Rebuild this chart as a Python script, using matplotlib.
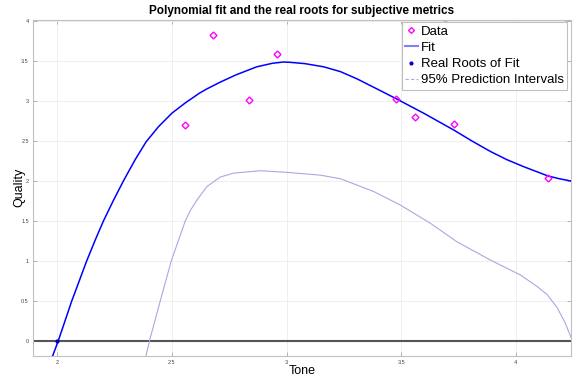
import matplotlib
matplotlib.use("Agg")
import matplotlib.pyplot as plt
from matplotlib.lines import Line2D

plt.rcParams['font.family'] = ['Liberation Sans', 'DejaVu Sans']

# measured points
tone = [2.559, 2.680, 2.838, 2.959, 3.479, 3.559, 3.729, 4.140]
quality = [2.696, 3.834, 3.009, 3.596, 3.025, 2.796, 2.717, 2.038]

# fitted curve
fit_x = [1.980, 2.004, 2.063, 2.128, 2.165, 2.201, 2.245, 2.288, 2.340, 2.387,
         2.441, 2.500, 2.559, 2.620, 2.650, 2.712, 2.780, 2.870, 2.940, 2.987,
         3.016, 3.080, 3.162, 3.235, 3.307, 3.390, 3.479, 3.598, 3.729, 3.810,
         3.890, 3.960, 4.035, 4.090, 4.140, 4.190, 4.243]
fit_y = [-0.184, 0.000, 0.500, 1.000, 1.260, 1.500, 1.760, 2.000, 2.270, 2.490,
         2.680, 2.850, 2.980, 3.100, 3.150, 3.240, 3.330, 3.430, 3.475, 3.490,
         3.486, 3.470, 3.430, 3.370, 3.280, 3.160, 3.030, 2.850, 2.640, 2.500,
         2.370, 2.270, 2.180, 2.120, 2.065, 2.030, 2.000]

# lower 95% prediction bound
lo_x = [2.387, 2.402, 2.449, 2.497, 2.558, 2.580, 2.609, 2.652, 2.710, 2.769,
        2.885, 3.000, 3.147, 3.235, 3.380, 3.497, 3.629, 3.744, 3.891, 4.021,
        4.094, 4.137, 4.180, 4.215, 4.243]
lo_y = [-0.184, 0.000, 0.500, 1.000, 1.500, 1.630, 1.763, 1.930, 2.050, 2.100,
        2.130, 2.110, 2.075, 2.030, 1.870, 1.700, 1.470, 1.240, 1.010, 0.825,
        0.680, 0.580, 0.420, 0.230, 0.030]

# upper 95% prediction bound (mostly off the top / under the legend)
up_x = [3.600, 3.650, 3.700, 3.780, 3.900, 4.000, 4.100, 4.180, 4.243]
up_y = [4.250, 4.060, 3.990, 3.900, 3.830, 3.820, 3.860, 3.930, 4.030]

root_x = [2.000]
root_y = [0.000]

fig = plt.figure(figsize=(5.8, 3.78), dpi=100)
ax = fig.add_axes([0.0569, 0.059, 0.9276, 0.889])

ax.axhline(0, color='#555555', lw=1.5, zorder=2)
ax.plot(fit_x, fit_y, '-', color='#0000ff', lw=1.1, zorder=3, solid_joinstyle='round')
ax.plot(lo_x, lo_y, '-', color='#a8a8e0', lw=0.8, zorder=3, solid_joinstyle='round')
ax.plot(up_x, up_y, '-', color='#a8a8e0', lw=0.8, zorder=3, solid_joinstyle='round')
ax.plot(tone, quality, 'D', mfc='none', mec='#ff00ff', ms=3.5, mew=1.0, zorder=4)
ax.plot(root_x, root_y, '.', color='#0000aa', ms=4, zorder=5)

ax.set_xlim(1.894, 4.241)
ax.set_ylim(-0.184, 4.02)
ax.set_xticks([2, 2.5, 3, 3.5, 4])
ax.set_xticklabels(['2', '2.5', '3', '3.5', '4'])
ax.set_yticks([0, 0.5, 1, 1.5, 2, 2.5, 3, 3.5, 4])
ax.set_yticklabels(['0', '0.5', '1', '1.5', '2', '2.5', '3', '3.5', '4'])
ax.tick_params(direction='in', length=3, width=0.5, color='#999999',
               labelsize=4, labelcolor='#444444', top=True, right=True, pad=3)
ax.grid(True, color='#ececec', lw=0.6)
ax.set_axisbelow(True)
for s in ax.spines.values():
    s.set_color('#c0c0c0')
    s.set_linewidth(0.8)

ax.set_title('Polynomial fit and the real roots for subjective metrics',
             fontsize=8.5, fontweight='bold', pad=4)
ax.set_xlabel('Tone', fontsize=9, labelpad=0)
ax.set_ylabel('Quality', fontsize=9, labelpad=-3)

handles = [
    Line2D([], [], ls='none', marker='D', mfc='none', mec='#ff00ff', ms=3, mew=1.0),
    Line2D([], [], color='#7f7fff', lw=1.5),
    Line2D([], [], ls='none', marker='.', color='#0000cc', ms=4),
    Line2D([], [], color='#a8a8e0', lw=0.8, ls='--', dashes=(3, 2)),
]
labels = ['Data', 'Fit', 'Real Roots of Fit', '95% Prediction Intervals']
leg = ax.legend(handles, labels, loc='upper right', bbox_to_anchor=(0.993, 0.992),
                borderaxespad=0, fontsize=9.5, handlelength=0.95, handletextpad=0.25,
                labelspacing=0.3, borderpad=0.25, fancybox=False, framealpha=1,
                edgecolor='#c0c0c0')
leg.get_frame().set_linewidth(0.8)
leg.set_zorder(10)

fig.savefig('out.png', dpi=100)
